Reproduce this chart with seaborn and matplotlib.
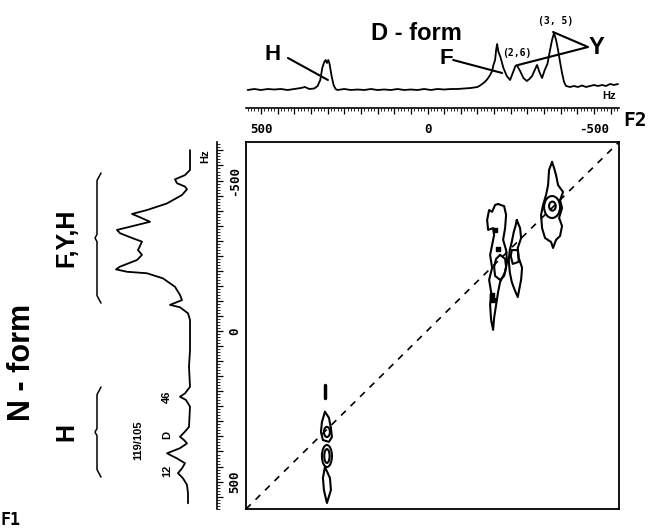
import matplotlib
matplotlib.use("Agg")
import matplotlib.pyplot as plt
from matplotlib.patches import Ellipse
from matplotlib.ticker import MultipleLocator, FuncFormatter
import seaborn as sns
import pandas as pd

# ---------------- data (Hz / arbitrary intensity) ----------------
# D-form 1D spectrum (top, F2 axis)
top_hz = [540, 520, 500, 480, 460, 440, 420, 400, 380, 368, 355, 340, 330, 322, 316, 310, 306,
          302, 298, 294, 288, 282, 276, 270, 250, 230, 210, 190, 170, 150, 130, 110, 90, 70, 50,
          30, 10, -10, -30, -50, -70, -90, -110, -130, -150, -160, -172, -180, -188, -194, -198,
          -203, -206, -209, -213, -218, -223, -228, -238, -248, -256, -264, -268, -278, -288,
          -298, -306, -314, -322, -329, -336, -344, -352, -360, -368, -374, -380, -386, -392,
          -398, -404, -410, -416, -428, -440, -452, -464, -476, -488, -500, -512, -524, -536,
          -548, -560, -572]
top_int = [0, 1, 0, 1, 0.5, 1, 0, 1, 2, 3, 1, 1.5, 4, 10, 22, 28, 30,
           27, 30, 26, 14, 5, 1, 0, 1, 0, 0.5, 0, 1, 0, 0.5, 0, 1, 0, 0.5,
           0, 1, 0, 1, 0.5, 1, 1, 1.5, 2, 3, 5, 8, 11, 15, 19, 25,
           30, 40, 46, 38, 34, 28, 22, 14, 10, 17, 24, 25, 19, 12,
           9, 11, 14, 20, 25, 18, 12, 20, 26, 40, 50, 57, 50, 40,
           28, 17, 8, 4, 3, 4, 3, 4.5, 3, 4, 5, 4, 5, 4,
           6, 5, 6]

# N-form 1D spectrum (left, F1 axis)
left_hz = [-601, -535, -518, -504, -491, -480, -471, -452, -424, -402, -389, -378, -363, -349,
           -336, -325, -308, -297, -269, -253, -236, -214, -205, -197, -192, -175, -147, -120,
           -103, -87, -79, -59, -37, 63, 118, 185, 207, 218, 229, 251, 318, 334, 351, 362, 373,
           389, 406, 423, 439, 456, 472, 489, 511, 539, 572]
left_int = [2, 2, 7, 17, 15, 7, 5, 10, 25, 45, 60, 52, 42, 59,
            75, 72, 59, 50, 54, 50, 55, 72, 76, 65, 45, 29, 17, 12,
            10, 22, 12, 4, 2, 2, 3, 2, 7, 12, 6, 2, 3, 7, 12, 8, 5,
            12, 25, 15, 7, 10, 14, 9, 5, 4, 4]

# 2D exchange map: contour outlines (F2 Hz, F1 Hz)
contour_y_f2 = [-374, -365, -362, -356, -347, -341, -344, -353, -371, -377, -386, -398, -404,
                -395, -404, -398, -407, -392, -386, -380]
contour_y_f1 = [-562, -535, -485, -452, -419, -386, -342, -309, -296, -276, -303, -316, -349,
                -376, -409, -435, -462, -485, -518, -542]
contour_f_f2 = [-212, -230, -236, -233, -227, -236, -239, -233, -218, -212, -206, -200, -197,
                -191, -188, -191, -185, -194, -188, -194, -200, -197, -182, -179, -185, -194, -203]
contour_f_f1 = [-422, -415, -386, -342, -303, -269, -230, -196, -163, -130, -87, -44, -4,
                -37, -87, -130, -170, -210, -253, -286, -319, -342, -336, -369, -402, -396, -419]
contour_f_ring_f2 = [-218, -233, -236, -230, -218, -203, -200, -206]
contour_f_ring_f1 = [-253, -240, -213, -183, -170, -183, -213, -240]
contour_26_f2 = [-268, -278, -281, -271, -274, -284, -281, -275, -271, -262, -253, -247, -244,
                 -247, -253, -259, -265]
contour_26_f1 = [-369, -342, -309, -276, -243, -210, -170, -136, -113, -136, -163, -196, -236,
                 -269, -296, -329, -352]
contour_26_in_f2 = [-253, -271, -274, -256, -250]
contour_26_in_f1 = [-269, -269, -230, -223, -249]
contour_h_f2 = [308, 296, 290, 287, 296, 314, 320, 317]
contour_h_f1 = [268, 288, 322, 352, 368, 362, 335, 302]
contour_htail_f2 = [308, 293, 290, 302, 311, 314]
contour_htail_f1 = [451, 488, 528, 571, 528, 488]
# ring contours: centre F2, centre F1, width Hz, height Hz
ring_f2 = [-374, -375, 302, 302, 302]
ring_f1 = [-412, -415, 335, 415, 415]
ring_w = [48, 20, 18, 30, 16]
ring_h = [73, 30, 34, 73, 46]
# small solid spots
spot_f2 = [-203, -212, -197, -194]
spot_f1 = [-336, -273, -103, -120]
# short H dash above diagonal
dash_f2 = [308, 308]
dash_f1 = [179, 222]

# groups in N-form spectrum (label, F1 start, F1 end)
group_labels = ["F,Y,H", "H"]
group_start = [-525, 186]
group_end = [-93, 485]

# peak labels N-form
peak_labels = ["46", "D", "12", "119/105"]
peak_f1 = [219, 345, 465, 362]

F2_LIM = (545, -575)
F1_LIM = (591, -628)
TICKS_SHOWN = [500, 0, -500]

# ---------------- figure ----------------
sns.set_theme(style="white")
plt.rcParams["font.family"] = ["Liberation Sans", "DejaVu Sans"]
plt.rcParams["axes.unicode_minus"] = False
plt.rcParams["text.color"] = "black"

W, H = 648, 531
fig = plt.figure(figsize=(W / 100, H / 100), dpi=100)


def box(x0, y0, x1, y1):
    return [x0 / W, 1 - y1 / H, (x1 - x0) / W, (y1 - y0) / H]


ax_main = fig.add_axes(box(246, 142, 619, 509))
ax_top = fig.add_axes(box(246, 10, 619, 108))
ax_left = fig.add_axes(box(100, 142, 217, 509))
for a in (ax_main, ax_top, ax_left):
    a.set_facecolor("none")

fmt = FuncFormatter(lambda v, p: f"{int(round(v))}" if int(round(v)) in TICKS_SHOWN else "")
mono = ["DejaVu Sans Mono"]

# ---- top spectrum ----
top_df = pd.DataFrame({"hz": top_hz, "I": top_int})
sns.lineplot(data=top_df, x="hz", y="I", ax=ax_top, color="black", lw=1.3,
             estimator=None, sort=False)
ax_top.set_xlim(F2_LIM)
ax_top.set_ylim(-18, 80)
for s in ("top", "left", "right"):
    ax_top.spines[s].set_visible(False)
ax_top.spines["bottom"].set_linewidth(1.2)
ax_top.spines["bottom"].set_color("black")
ax_top.xaxis.set_major_locator(MultipleLocator(50))
ax_top.xaxis.set_minor_locator(MultipleLocator(10))
ax_top.xaxis.set_major_formatter(fmt)
ax_top.tick_params(axis="x", which="major", direction="out", length=4, width=0.9,
                   pad=7, bottom=True, colors="black")
ax_top.tick_params(axis="x", which="minor", direction="out", length=2, width=0.7, bottom=True)
for lbl in ax_top.get_xticklabels():
    lbl.set_fontfamily(mono)
    lbl.set_fontweight("bold")
    lbl.set_fontsize(9)
ax_top.set_yticks([])
ax_top.set_xlabel("")
ax_top.set_ylabel("")

bold = dict(fontweight="bold", color="black", ha="center", va="center")
ax_top.text(464, 35, "H", fontsize=16, **bold)
ax_top.plot([419, 299], [32, 10], color="black", lw=1.5, clip_on=False)
ax_top.text(-56, 32, "F", fontsize=16, **bold)
ax_top.plot([-77, -224], [30, 17], color="black", lw=1.5, clip_on=False)
ax_top.text(-508, 43, "Y", fontsize=17, **bold)
ax_top.plot([-377, -482, -272], [58, 43, 25], color="black", lw=1.5, clip_on=False)
ax_top.text(-269, 37, "(2,6)", fontsize=7, family=mono, **bold)
ax_top.text(-386, 69, "(3, 5)", fontsize=7, family=mono, **bold)
ax_top.text(-545, -6, "Hz", fontsize=8, **bold)

# ---- left spectrum ----
left_df = pd.DataFrame({"hz": left_hz, "I": left_int})
sns.lineplot(data=left_df, x="I", y="hz", ax=ax_left, color="black", lw=1.3,
             estimator=None, sort=False)
ax_left.set_ylim(F1_LIM)
ax_left.set_xlim(92, -25)
for s in ("top", "left", "bottom"):
    ax_left.spines[s].set_visible(False)
ax_left.spines["right"].set_linewidth(1.2)
ax_left.spines["right"].set_color("black")
ax_left.yaxis.tick_right()
ax_left.yaxis.set_major_locator(MultipleLocator(50))
ax_left.yaxis.set_minor_locator(MultipleLocator(10))
ax_left.yaxis.set_major_formatter(fmt)
ax_left.tick_params(axis="y", which="major", direction="out", length=4, width=0.9,
                    pad=4, right=True, left=False, colors="black")
ax_left.tick_params(axis="y", which="minor", direction="out", length=2, width=0.7,
                    right=True, left=False)
for lbl in ax_left.get_yticklabels():
    lbl.set_rotation(90)
    lbl.set_fontfamily(mono)
    lbl.set_fontweight("bold")
    lbl.set_fontsize(9)
    lbl.set_va("center")
ax_left.set_xticks([])
ax_left.set_xlabel("")
ax_left.set_ylabel("")
ax_left.text(-13, -580, "Hz", fontsize=8, rotation=90, **bold)

for lab, a0, a1 in zip(group_labels, group_start, group_end):
    mid = (a0 + a1) / 2
    ax_left.plot([91, 95, 95, 97, 95, 95, 91],
                 [a0, a0 + 25, mid - 12, mid, mid + 12, a1 - 25, a1],
                 color="black", lw=1.1, clip_on=False)
    ax_left.text(126, mid, lab, fontsize=18, rotation=90, clip_on=False, **bold)

for lab, f1 in zip(peak_labels, peak_f1):
    xpos = 54 if "/" in lab else 25
    ax_left.text(xpos, f1, lab, fontsize=8, rotation=90, **bold)

# ---- main 2D map ----
ax_main.set_xlim(F2_LIM)
ax_main.set_ylim(F1_LIM)
ax_main.set_xticks([])
ax_main.set_yticks([])
for s in ax_main.spines.values():
    s.set_visible(True)
    s.set_linewidth(1.3)
    s.set_color("black")

ax_main.plot([F2_LIM[0], F2_LIM[1]], [F1_LIM[0], F1_LIM[1]], color="black", lw=1.2,
             ls=(0, (4, 4)))

outlines = [(contour_y_f2, contour_y_f1), (contour_f_f2, contour_f_f1),
            (contour_f_ring_f2, contour_f_ring_f1), (contour_26_f2, contour_26_f1),
            (contour_26_in_f2, contour_26_in_f1), (contour_h_f2, contour_h_f1),
            (contour_htail_f2, contour_htail_f1)]
for xs, ys in outlines:
    ax_main.plot(list(xs) + [xs[0]], list(ys) + [ys[0]], color="black", lw=1.5)
for cx, cy, w, h in zip(ring_f2, ring_f1, ring_w, ring_h):
    ax_main.add_patch(Ellipse((cx, cy), w, h, fill=False, ec="black", lw=1.5))
ax_main.scatter(spot_f2, spot_f1, s=9, marker="s", color="black")
ax_main.plot(dash_f2, dash_f1, color="black", lw=2.5)

# ---- figure texts ----
fig.text(416 / W, 1 - 33 / H, "D - form", fontsize=17, **bold)
fig.text(22 / W, 1 - 362 / H, "N - form", fontsize=22, rotation=90, **bold)
fig.text(635 / W, 1 - 120 / H, "F2", fontsize=14, family=mono, **bold)
fig.text(1 / W, 1 - 520 / H, "F1", fontsize=12, family=mono, fontweight="bold",
         color="black", ha="left", va="center")

fig.savefig("out.png", dpi=100)
